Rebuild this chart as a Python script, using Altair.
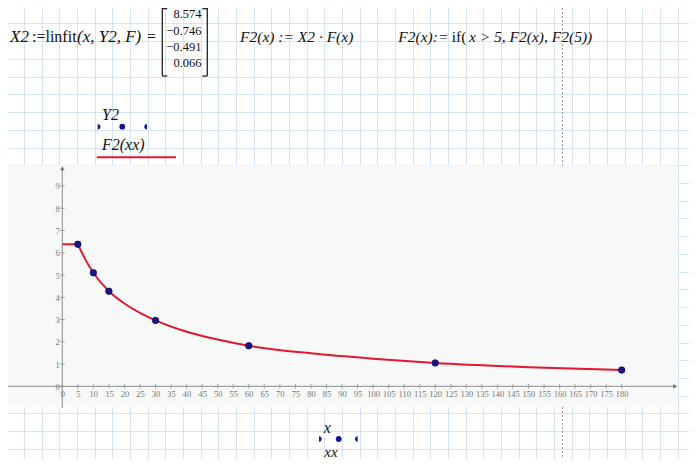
import altair as alt
import pandas as pd

# ---------------- data ----------------
x_pts = [5, 10, 15, 30, 60, 120, 180]
y2_pts = [6.38, 5.10, 4.27, 2.96, 1.82, 1.05, 0.73]

flat_x = [0, 5]
flat_y = [6.38, 6.38]
curve_x = [5, 7.5, 10, 15, 20, 25, 30, 40, 50, 60, 80, 100, 120, 150, 180]
curve_y = [6.38, 5.68, 5.10, 4.27, 3.72, 3.30, 2.96, 2.45, 2.10, 1.82, 1.48, 1.24, 1.05, 0.86, 0.73]

coeffs = ["8.574", "\u22120.746", "\u22120.491", "0.066"]
x_ticks = list(range(0, 181, 5))
y_ticks = list(range(0, 10))

paper_cols = list(range(1, 39))
paper_rows = list(range(0, 25))

# ---------------- tables ----------------
pts = pd.DataFrame({"x": x_pts, "y": y2_pts})
fit = pd.concat([
    pd.DataFrame({"x": flat_x, "y": flat_y, "part": "flat"}),
    pd.DataFrame({"x": curve_x, "y": curve_y, "part": "fit"}),
])
xt = pd.DataFrame({"x": x_ticks})
yt = pd.DataFrame({"y": y_ticks})
one = alt.Data(values=[{}])

W, H = 681, 451
SERIF = "Liberation Serif"
AXC = "#8c8c8c"
NAVY = "#16168a"
RED = "#e3172f"
PAPER = "#d3e4f4"
PANEL = "#f6f9f7"

XS = alt.Scale(domain=[-17.47, 201.65], nice=False, zero=False)
YS = alt.Scale(domain=[-3.266, 16.995], nice=False, zero=False)
XA = alt.Axis(values=x_ticks, orient="bottom", offset=-72.7, domain=False, ticks=False,
              grid=False, labelPadding=3, labelFont=SERIF, labelFontSize=8.5,
              labelColor="#777777", labelOverlap=False, labelFlush=False, title=None, zindex=1)
YA = alt.Axis(values=y_ticks, orient="left", offset=-54.3, domain=False, ticks=False,
              grid=False, labelPadding=3, labelFont=SERIF, labelFontSize=8.5,
              labelColor="#777777", labelOverlap=False, labelFlush=False, title=None, zindex=1)


def X(f):
    return alt.X(f, type="quantitative", scale=XS, axis=XA)


def Y(f):
    return alt.Y(f, type="quantitative", scale=YS, axis=YA)


def XD(v):
    return alt.XDatum(v, type="quantitative", scale=XS, axis=XA)


def YD(v):
    return alt.YDatum(v, type="quantitative", scale=YS, axis=YA)


def txt(s, x, y, italic=False, size=16, align="left", color="#111111"):
    return alt.Chart(one).mark_text(
        font=SERIF, fontSize=size, fontStyle="italic" if italic else "normal",
        align=align, baseline="middle", color=color
    ).encode(x=alt.value(x), y=alt.value(y), text=alt.value(s))


def hrule(x1, x2, y, color="#222222", w=1.3, dash=None):
    kw = dict(color=color, strokeWidth=w)
    if dash:
        kw["strokeDash"] = dash
    return alt.Chart(one).mark_rule(**kw).encode(x=alt.value(x1), x2=alt.value(x2), y=alt.value(y))


def vrule(x, y1, y2, color="#222222", w=1.3, dash=None):
    kw = dict(color=color, strokeWidth=w)
    if dash:
        kw["strokeDash"] = dash
    return alt.Chart(one).mark_rule(**kw).encode(x=alt.value(x), y=alt.value(y1), y2=alt.value(y2))


def sym(x, y, shape, size):
    return alt.Chart(one).mark_point(shape=shape, filled=True, size=size, color=NAVY, opacity=1).encode(
        x=alt.value(x), y=alt.value(y))


RIGHT_HALF = "M0,-1 A1,1 0 0,1 0,1 Z"
LEFT_HALF = "M0,-1 A1,1 0 0,0 0,1 Z"

# ---------------- paper grid (independent pixel-like scales) ----------------
paper = alt.Chart(alt.Data(values=[{"gx": 1, "gy": 1}])).mark_point(opacity=0).encode(
    x=alt.X("gx:Q", scale=alt.Scale(domain=[0.096, 38.64], nice=False, zero=False),
            axis=alt.Axis(values=paper_cols, orient="top", grid=True, gridColor=PAPER, gridWidth=1,
                          labels=False, ticks=False, domain=False, title=None)),
    y=alt.Y("gy:Q", scale=alt.Scale(domain=[-0.567, 24.87], nice=False, zero=False),
            axis=alt.Axis(values=paper_rows, orient="right", grid=True, gridColor=PAPER, gridWidth=1,
                          labels=False, ticks=False, domain=False, title=None)),
)

# ---------------- plot panel ----------------
panel = alt.Chart(one).mark_rect(color=PANEL).encode(
    x=alt.value(0), x2=alt.value(669.7), y=alt.value(157.3), y2=alt.value(399))

x_axis_line = alt.Chart(one).mark_rule(color=AXC, strokeWidth=1).encode(
    x=XD(-18.1), x2=alt.X2Datum(196.5), y=YD(0))
y_axis_line = alt.Chart(one).mark_rule(color=AXC, strokeWidth=1).encode(
    x=XD(0), y=YD(-0.97), y2=alt.Y2Datum(9.8))
x_arrow = alt.Chart(one).mark_point(shape="triangle-right", filled=True, size=22, color="#777777", opacity=1).encode(
    x=XD(197.2), y=YD(0))
y_arrow = alt.Chart(one).mark_point(shape="triangle-up", filled=True, size=22, color="#777777", opacity=1).encode(
    x=XD(0), y=YD(9.8))

x_tick_marks = alt.Chart(xt).mark_tick(orient="vertical", size=5, thickness=1, color=AXC).encode(
    x=X("x"), y=YD(0))
y_tick_marks = alt.Chart(yt).mark_tick(orient="horizontal", size=5, thickness=1, color=AXC).encode(
    x=XD(0), y=Y("y"))

fit_line = alt.Chart(fit).mark_line(color=RED, strokeWidth=2, interpolate="monotone").encode(
    x=X("x"), y=Y("y"), detail="part:N")

points = alt.Chart(pts).mark_point(filled=True, size=42, color=NAVY, stroke="#0b0b55",
                                   strokeWidth=0.8, opacity=1).encode(x=X("x"), y=Y("y"))

# ---------------- worksheet text ----------------
row_y = [6, 22.7, 39.3, 55.3]
deco = [
    # formula 1
    txt("X2", 2, 28.7, italic=True, size=17),
    txt(":=linfit", 24, 28.7),
    txt("(x, Y2, F)", 69, 28.7, italic=True, size=17),
    txt("=", 139, 28.7),
]
for s, yy in zip(coeffs, row_y):
    deco.append(txt(s, 193.5, yy, size=12.5, align="right"))
deco += [
    vrule(154.3, 0, 68), hrule(154.3, 159.3, 0.7), hrule(154.3, 159.3, 68),
    vrule(199.3, 0, 68), hrule(194.3, 199.3, 0.7), hrule(194.3, 199.3, 68),
    # formula 2
    txt("F2(x) := X2 \u00b7 F(x)", 232, 28.7, italic=True, size=15.5),
    # formula 3
    txt("F2(x):=", 390.3, 28.7, italic=True, size=15.5),
    txt("if(", 443.7, 28.7, size=15.5),
    txt("x > 5, F2(x), F2(5))", 461, 28.7, italic=True, size=15.5),
    # page break
    vrule(554.5, 0, 157.3, color="#9a9a9a", w=1, dash=[2, 2]),
    vrule(554.5, 399, 451, color="#9a9a9a", w=1, dash=[2, 2]),
    # legend block
    txt("Y2", 94, 107.3, italic=True, size=16),
    sym(89.7, 118.7, RIGHT_HALF, 30),
    sym(114.3, 118.7, "circle", 34),
    sym(139, 118.7, LEFT_HALF, 30),
    txt("F2(xx)", 94, 137, italic=True, size=16),
    hrule(88.7, 168, 149.3, color=RED, w=2),
    # x-axis placeholder block
    txt("x", 319.3, 420.3, italic=True, size=16, align="center"),
    sym(311, 431, RIGHT_HALF, 30),
    sym(330.7, 431, "circle", 34),
    sym(349.7, 431, LEFT_HALF, 30),
    txt("xx", 323, 443.5, italic=True, size=15, align="center"),
]

main = alt.layer(panel, x_axis_line, y_axis_line, x_arrow, y_arrow, x_tick_marks, y_tick_marks,
                 fit_line, points, *deco)

chart = alt.layer(paper, main).resolve_scale(x="independent", y="independent").properties(
    width=W, height=H, padding=0, autosize=alt.AutoSizeParams(type="none"),
    background="white"
).configure_view(stroke=None)

chart.save("out.html", embed_options={"renderer": "svg", "actions": False})
